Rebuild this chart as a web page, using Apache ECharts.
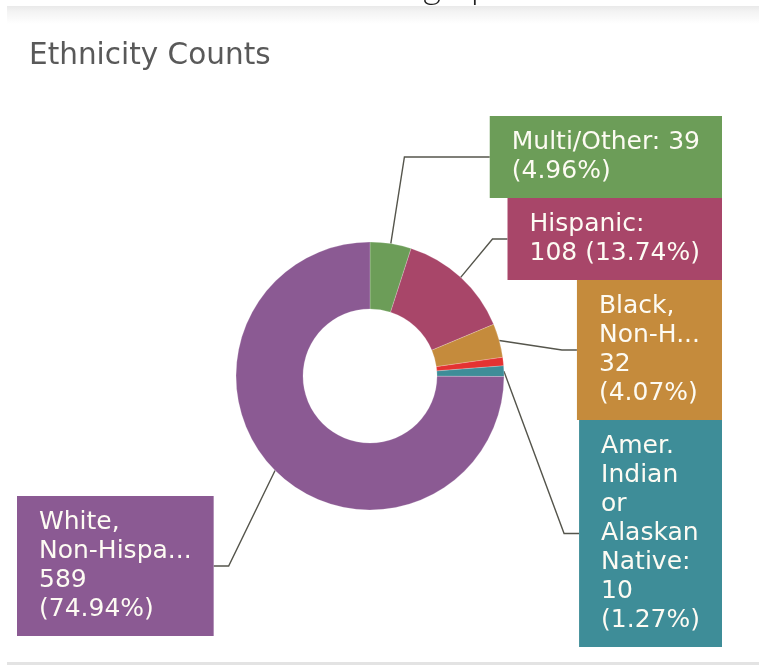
<!DOCTYPE html>
<html>
<head>
<meta charset="utf-8">
<script src="https://cdn.jsdelivr.net/npm/echarts@6/dist/echarts.min.js"></script>
<style>
  html, body { margin: 0; padding: 0; background: #fff; }
  #chart { width: 759px; height: 667px; }
</style>
</head>
<body>
<div id="chart"></div>
<script>
// Ethnicity breakdown (counts per group)
const categories = ['Multi/Other', 'Hispanic', 'Black, Non-Hispanic', 'Asian', 'Amer. Indian or Alaskan Native', 'White, Non-Hispanic'];
const counts = [39, 108, 32, 8, 10, 589];
// Shortened names as they appear inside the label boxes
const labelNames = ['Multi/Other', 'Hispanic', 'Black,\nNon-H...', 'Asian', 'Amer.\nIndian\nor\nAlaskan\nNative', 'White,\nNon-Hispa...'];
const showLabel = [true, true, true, false, true, true];
// Separator before the count and before the percentage
const countBreaks = [' ', '\n', '\n', '\n', '\n', '\n'];
const percentBreaks = ['\n', ' ', '\n', '\n', '\n', '\n'];
const sliceColors = ['#6c9d58', '#a84669', '#c58b3c', '#e43232', '#3e8d98', '#8b5a93'];

const total = counts.reduce((a, b) => a + b, 0);
const percents = counts.map(v => (v / total * 100).toFixed(2));

function labelText(i) {
  const nm = labelNames[i];
  const head = nm.endsWith('...') ? nm : nm + ':';
  return head + countBreaks[i] + counts[i] + percentBreaks[i] + '(' + percents[i] + '%)';
}

// Label box geometry
const FONT_SIZE = 25;
const LINE_H = 29;
const PAD = [12, 22, 12, 22];
const RIGHT_EDGE = 722;
const LEFT_EDGE = 17;
const RIGHT_STACK_TOP = 116;
const LEFT_STACK_BOTTOM = 636;
const MIN_RUN = 15;

function boxHeight(i) {
  return labelText(i).split('\n').length * LINE_H + PAD[0] + PAD[2];
}

// Which side of the donut each slice's label goes on (clockwise from 12 o'clock)
const onRight = (() => {
  let acc = 0;
  return counts.map(v => {
    const mid = (acc + v / 2) / total;
    acc += v;
    return mid < 0.5;
  });
})();

function boxTop(i) {
  if (onRight[i]) {
    let y = RIGHT_STACK_TOP;
    for (let j = 0; j < i; j++) if (showLabel[j] && onRight[j]) y += boxHeight(j);
    return y;
  }
  let bottom = LEFT_STACK_BOTTOM;
  for (let j = counts.length - 1; j > i; j--) if (showLabel[j] && !onRight[j]) bottom -= boxHeight(j);
  return bottom - boxHeight(i);
}

const chart = echarts.init(document.getElementById('chart'), null, { renderer: 'canvas' });

const option = {
  animation: false,
  backgroundColor: '#fff',
  title: {
    text: 'Ethnicity Counts',
    left: 24,
    top: 36,
    textStyle: { fontFamily: 'DejaVu Sans', fontSize: 29.5, fontWeight: 'normal', color: '#595959' }
  },
  graphic: [
    {
      type: 'rect', z: -1,
      shape: { x: 7, y: 6, width: 752, height: 18 },
      style: {
        fill: new echarts.graphic.LinearGradient(0, 0, 0, 1, [
          { offset: 0, color: '#e9e9e9' },
          { offset: 0.3, color: '#f3f3f3' },
          { offset: 1, color: '#ffffff' }
        ])
      }
    },
    {
      type: 'text', z: 2,
      style: {
        text: 'Cohort Demographics',
        x: 380, y: -13,
        align: 'center', verticalAlign: 'middle',
        font: '300 36px Lato',
        fill: '#222'
      }
    },
    {
      type: 'rect',
      shape: { x: 7, y: 662, width: 752, height: 3 },
      style: { fill: '#e3e3e3' }
    }
  ],
  series: [{
    type: 'pie',
    center: [370, 376],
    radius: [67, 134],
    startAngle: 90,
    clockwise: true,
    avoidLabelOverlap: false,
    itemStyle: { borderColor: 'rgba(255,255,255,0.35)', borderWidth: 0.6 },
    label: {
      show: true,
      position: 'outside',
      fontFamily: 'DejaVu Sans',
      fontSize: FONT_SIZE,
      lineHeight: LINE_H,
      color: '#fdfbf3',
      padding: PAD,
      formatter: p => labelText(p.dataIndex)
    },
    labelLine: {
      show: true,
      length: 15,
      length2: 15,
      lineStyle: { color: '#55554c', width: 1.4 }
    },
    labelLayout: function (params) {
      const i = params.dataIndex;
      if (!showLabel[i]) return {};
      const w = params.labelRect.width;
      const h = boxHeight(i);
      const top = boxTop(i);
      const cy = top + h / 2;
      const pts = params.labelLinePoints;
      const p0 = pts[0];
      const dx = pts[1][0] - p0[0];
      const dy = pts[1][1] - p0[1];
      const len = Math.hypot(dx, dy) || 1;
      const ux = dx / len, uy = dy / len;
      const right = onRight[i];
      const edgeX = right ? RIGHT_EDGE - w : LEFT_EDGE + w;
      // Bend where the radial direction meets the label's centre line, if it does
      let bx = right ? edgeX - MIN_RUN : edgeX + MIN_RUN;
      if (Math.abs(uy) > 1e-6) {
        const t = (cy - p0[1]) / uy;
        if (t > 0) {
          const x = p0[0] + t * ux;
          if (right ? x <= edgeX - MIN_RUN : x >= edgeX + MIN_RUN) bx = x;
        }
      }
      return {
        x: right ? RIGHT_EDGE - w : LEFT_EDGE,
        y: top,
        align: 'left',
        verticalAlign: 'top',
        labelLinePoints: [p0, [bx, cy], [edgeX, cy]]
      };
    },
    data: categories.map((name, i) => ({
      name: name,
      value: counts[i],
      itemStyle: { color: sliceColors[i] },
      label: showLabel[i] ? { backgroundColor: sliceColors[i] } : { show: false },
      labelLine: { show: showLabel[i] }
    }))
  }]
};

chart.setOption(option);
</script>
</body>
</html>
